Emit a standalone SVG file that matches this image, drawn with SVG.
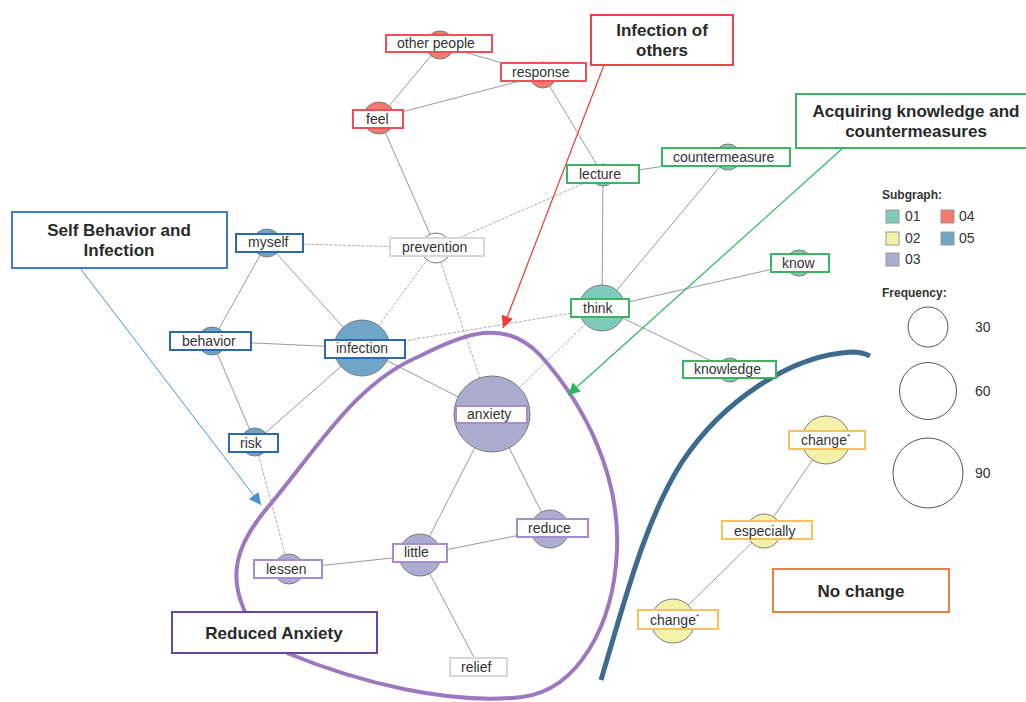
<svg xmlns="http://www.w3.org/2000/svg" width="1026" height="702" viewBox="0 0 1026 702">
<style>
.e{stroke:#9a9a9a;stroke-width:1;fill:none}
.d{stroke:#aaaaaa;stroke-width:1;fill:none;stroke-dasharray:3 1.5}
.n{stroke:#7a7a7a;stroke-width:1}
.c01{fill:#7ecbbb}.c02{fill:#f4f2a9}.c03{fill:#acacd0}.c04{fill:#f27a6e}.c05{fill:#6fa5c6}.cw{fill:#ffffff}
.lb{fill:#fff;stroke-width:2}
.b01{stroke:#3cb563}.b02{stroke:#f5c35a}.b03{stroke:#a98ccf}.b04{stroke:#ee5058}.b05{stroke:#2e69ae}.bg{stroke:#d8d8d8}
.t{font-family:"Liberation Sans",Arial,sans-serif;font-size:14px;fill:#333}
.h{font-family:"Liberation Sans",Arial,sans-serif;font-size:17px;font-weight:bold;fill:#2a2a2a;text-anchor:middle}
.lg{font-family:"Liberation Sans",Arial,sans-serif;font-size:14px;fill:#333}
.lgh{font-family:"Liberation Sans",Arial,sans-serif;font-size:12px;font-weight:bold;fill:#333}
.cb{fill:#fff;stroke-width:2}
</style>
<defs>
<marker id="arR" markerUnits="userSpaceOnUse" markerWidth="14" markerHeight="12" refX="12" refY="6" orient="auto"><path d="M0,0 L12,6 L0,12 z" fill="#ee3a3a"/></marker>
<marker id="arG" markerUnits="userSpaceOnUse" markerWidth="14" markerHeight="12" refX="12" refY="6" orient="auto"><path d="M0,0 L12,6 L0,12 z" fill="#2eb560"/></marker>
<marker id="arB" markerUnits="userSpaceOnUse" markerWidth="14" markerHeight="12" refX="12" refY="6" orient="auto"><path d="M0,0 L12,6 L0,12 z" fill="#4a90cf"/></marker>
</defs>
<rect width="1026" height="702" fill="#fff"/>

<g id="connectors">
<line class="e" x1="440" y1="45" x2="543" y2="75"/>
<line class="e" x1="440" y1="45" x2="379" y2="118"/>
<line class="e" x1="379" y1="118" x2="543" y2="75"/>
<line class="e" x1="543" y1="75" x2="603" y2="175"/>
<line class="e" x1="379" y1="118" x2="436" y2="248"/>
<line class="d" x1="603" y1="175" x2="436" y2="248"/>
<line class="e" x1="603" y1="175" x2="728" y2="157"/>
<line class="e" x1="603" y1="175" x2="602" y2="308"/>
<line class="e" x1="728" y1="157" x2="602" y2="308"/>
<line class="e" x1="602" y1="308" x2="799" y2="263"/>
<line class="e" x1="602" y1="308" x2="730" y2="370"/>
<line class="d" x1="602" y1="308" x2="362" y2="348"/>
<line class="d" x1="602" y1="308" x2="492" y2="414"/>
<line class="d" x1="436" y1="248" x2="267" y2="243"/>
<line class="d" x1="436" y1="248" x2="362" y2="348"/>
<line class="d" x1="436" y1="248" x2="492" y2="414"/>
<line class="e" x1="267" y1="243" x2="212" y2="341"/>
<line class="e" x1="267" y1="243" x2="362" y2="348"/>
<line class="e" x1="212" y1="341" x2="362" y2="348"/>
<line class="e" x1="212" y1="341" x2="255" y2="442"/>
<line class="e" x1="255" y1="442" x2="362" y2="348"/>
<line class="d" x1="255" y1="442" x2="289" y2="569"/>
<line class="e" x1="362" y1="348" x2="492" y2="414"/>
<line class="e" x1="492" y1="414" x2="420" y2="555"/>
<line class="e" x1="492" y1="414" x2="550" y2="529"/>
<line class="e" x1="420" y1="555" x2="550" y2="529"/>
<line class="e" x1="420" y1="555" x2="289" y2="569"/>
<line class="e" x1="420" y1="555" x2="479" y2="667"/>
<line class="e" x1="826" y1="440" x2="764" y2="531"/>
<line class="e" x1="764" y1="531" x2="672" y2="621"/>
</g>

<g id="regions">
<path d="M245,612 C228,575 236,545 268,507 C318,448 355,383 420,356 C465,333 505,318 540,355 C585,405 620,475 617,550 C614,625 578,690 522,697 C450,705 360,683 287,653" fill="none" stroke="#9b78c0" stroke-width="4"/>
<path d="M601,680 C625,600 645,520 682,462 C722,402 790,355 852,352 Q862,352 870,356" fill="none" stroke="#3d6a8f" stroke-width="5"/>
</g>

<g id="n-other-people"><circle class="n c04" cx="440" cy="45" r="14"/><rect class="lb b04" x="386" y="35" width="106" height="17"/><text class="t" x="397" y="48">other people</text></g>
<g id="n-response"><circle class="n c04" cx="543" cy="75" r="13"/><rect class="lb b04" x="501" y="63" width="85" height="18"/><text class="t" x="512" y="77">response</text></g>
<g id="n-feel"><circle class="n c04" cx="379" cy="118" r="16"/><rect class="lb b04" x="353" y="110" width="50" height="18"/><text class="t" x="366" y="124">feel</text></g>
<g id="n-lecture"><circle class="n c01" cx="603" cy="175" r="11"/><rect class="lb b01" x="567" y="165" width="72" height="18"/><text class="t" x="579" y="179">lecture</text></g>
<g id="n-countermeasure"><circle class="n c01" cx="728" cy="157" r="13"/><rect class="lb b01" x="662" y="148" width="128" height="18"/><text class="t" x="673" y="162">countermeasure</text></g>
<g id="n-know"><circle class="n c01" cx="799" cy="263" r="13"/><rect class="lb b01" x="771" y="254" width="58" height="18"/><text class="t" x="782" y="268">know</text></g>
<g id="n-think"><circle class="n c01" cx="602" cy="308" r="23"/><rect class="lb b01" x="571" y="299" width="58" height="18"/><text class="t" x="583" y="313">think</text></g>
<g id="n-knowledge"><circle class="n c01" cx="730" cy="370" r="12"/><rect class="lb b01" x="683" y="361" width="93" height="17"/><text class="t" x="694" y="374">knowledge</text></g>
<g id="n-prevention"><circle class="n cw" cx="436" cy="248" r="15"/><rect class="lb bg" x="390" y="238" width="94" height="18"/><text class="t" x="402" y="252">prevention</text></g>
<g id="n-myself"><circle class="n c05" cx="267" cy="243" r="14"/><rect class="lb b05" x="236" y="234" width="67" height="18"/><text class="t" x="248" y="247">myself</text></g>
<g id="n-behavior"><circle class="n c05" cx="212" cy="341" r="14"/><rect class="lb b05" x="170" y="332" width="81" height="18"/><text class="t" x="182" y="346">behavior</text></g>
<g id="n-infection"><circle class="n c05" cx="362" cy="348" r="28"/><rect class="lb b05" x="325" y="340" width="80" height="18"/><text class="t" x="336" y="353">infection</text></g>
<g id="n-risk"><circle class="n c05" cx="255" cy="442" r="14"/><rect class="lb b05" x="229" y="434" width="49" height="18"/><text class="t" x="240" y="448">risk</text></g>
<g id="n-anxiety"><circle class="n c03" cx="492" cy="414" r="38"/><rect class="lb b03" x="456" y="406" width="71" height="17"/><text class="t" x="467" y="419">anxiety</text></g>
<g id="n-reduce"><circle class="n c03" cx="550" cy="529" r="19"/><rect class="lb b03" x="517" y="519" width="71" height="18"/><text class="t" x="528" y="533">reduce</text></g>
<g id="n-little"><circle class="n c03" cx="420" cy="555" r="21"/><rect class="lb b03" x="393" y="544" width="54" height="18"/><text class="t" x="404" y="557">little</text></g>
<g id="n-lessen"><circle class="n c03" cx="289" cy="569" r="15"/><rect class="lb b03" x="254" y="560" width="68" height="18"/><text class="t" x="266" y="574">lessen</text></g>
<g id="n-relief"><circle class="n cw" cx="479" cy="667" r="9"/><rect class="lb bg" x="450" y="658" width="57" height="18"/><text class="t" x="461" y="672">relief</text></g>
<g id="n-change-1"><circle class="n c02" cx="826" cy="440" r="24"/><rect class="lb b02" x="789" y="431" width="76" height="18"/><text class="t" x="801" y="445">change<tspan font-size="8" dy="-6">*</tspan></text></g>
<g id="n-especially"><circle class="n c02" cx="764" cy="531" r="17"/><rect class="lb b02" x="722" y="521" width="90" height="18"/><text class="t" x="734" y="536">especially</text></g>
<g id="n-change-2"><circle class="n c02" cx="673" cy="621" r="22"/><rect class="lb b02" x="638" y="610" width="80" height="19"/><text class="t" x="650" y="625">change<tspan font-size="8" dy="-6">*</tspan></text></g>

<g id="callout-arrows">
<line x1="604" y1="65" x2="503" y2="328" stroke="#ee3a3a" stroke-width="1.2" marker-end="url(#arR)"/>
<line x1="843" y1="148" x2="568" y2="395" stroke="#2eb560" stroke-width="1.2" marker-end="url(#arG)"/>
<line x1="80" y1="268" x2="261" y2="505" stroke="#4a90cf" stroke-width="1" marker-end="url(#arB)"/>
</g>

<g id="callout-infection-of-others"><rect class="cb" x="591" y="15" width="142" height="50" stroke="#e8434a"/><text class="h" x="662" y="36">Infection of</text><text class="h" x="662" y="56">others</text></g>
<g id="callout-acquiring"><rect class="cb" x="796" y="94" width="232" height="54" stroke="#3cb563"/><text class="h" x="916" y="117">Acquiring knowledge and</text><text class="h" x="916" y="137">countermeasures</text></g>
<g id="callout-self"><rect class="cb" x="12" y="212" width="215" height="56" stroke="#3f7cc4"/><text class="h" x="119" y="236">Self Behavior and</text><text class="h" x="119" y="256">Infection</text></g>
<g id="callout-reduced"><rect class="cb" x="172" y="612" width="205" height="41" stroke="#6b44a0"/><text class="h" x="274" y="639">Reduced Anxiety</text></g>
<g id="callout-no-change"><rect class="cb" x="773" y="569" width="176" height="43" stroke="#e8804a"/><text class="h" x="861" y="597">No change</text></g>

<g id="legend">
<text class="lgh" x="882" y="199">Subgraph:</text>
<rect x="886" y="210" width="13" height="13" fill="#7ecbbb" stroke="#999"/><text class="lg" x="905" y="221">01</text>
<rect x="941" y="210" width="13" height="13" fill="#f27a6e" stroke="#999"/><text class="lg" x="959" y="221">04</text>
<rect x="886" y="232" width="13" height="13" fill="#f4f2a9" stroke="#999"/><text class="lg" x="905" y="243">02</text>
<rect x="941" y="232" width="13" height="13" fill="#6fa5c6" stroke="#999"/><text class="lg" x="959" y="243">05</text>
<rect x="886" y="253" width="13" height="13" fill="#acacd0" stroke="#999"/><text class="lg" x="905" y="264">03</text>
<text class="lgh" x="882" y="297">Frequency:</text>
<circle cx="928" cy="327" r="20" fill="none" stroke="#555"/><text class="lg" x="975" y="332">30</text>
<circle cx="928" cy="391" r="28.5" fill="none" stroke="#555"/><text class="lg" x="975" y="396">60</text>
<circle cx="928" cy="473" r="35" fill="none" stroke="#555"/><text class="lg" x="975" y="478">90</text>
</g>
</svg>
